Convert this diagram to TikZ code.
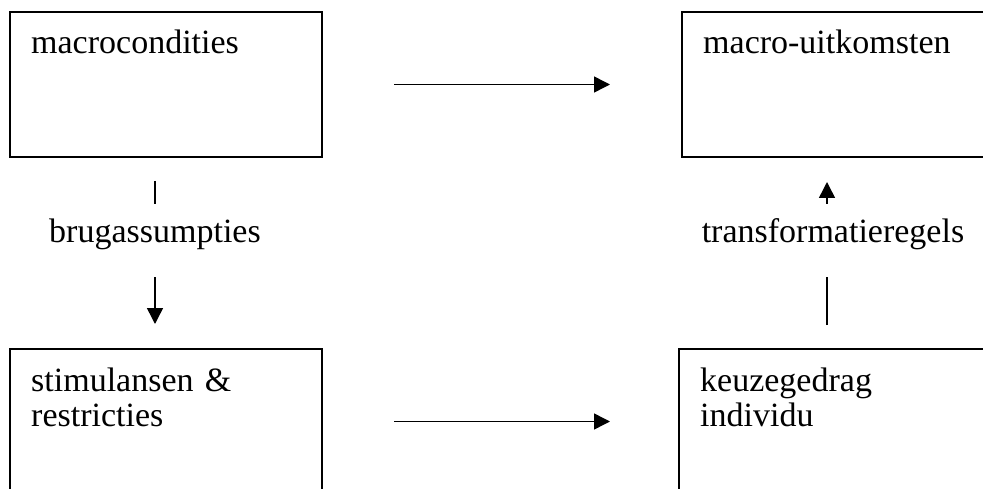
\documentclass[tikz,border=0pt]{standalone}
\usepackage{fontspec}
\setmainfont{Liberation Serif}
\usetikzlibrary{arrows.meta,calc,positioning}

\tikzset{
  blok/.style={draw,line width=1.6pt,minimum width=312pt,minimum height=145pt,inner sep=0pt,outer sep=0pt},
  bloktekst/.style={anchor=base west,inner sep=0pt,text width=280pt,align=left,font=\fontsize{34}{35.5}\selectfont},
  brug/.style={anchor=base,inner sep=0pt,text height=23pt,text depth=7pt,font=\fontsize{34}{36}\selectfont},
  pijl/.style={line width=1.5pt,-{Triangle[length=16pt,width=16pt]}},
  streep/.style={line width=1.5pt}
}

\begin{document}
\begin{tikzpicture}[x=1pt,y=1pt]
            \useasboundingbox (0,0) rectangle (983,488);
            % blokken
            \node[blok] (macro) at (166,403.5) {};
            \node[blok,minimum width=310pt] (uitkomst) at (837,403.5) {};
            \node[blok] (stimuli) at (166,66.5) {};
            \node[blok,minimum width=310pt] (keuze) at (834,66.5) {};
            \node[bloktekst] (macro-t) at ($(macro.north west)+(21,-42)$) {macrocondities};
            \node[bloktekst] (uitkomst-t) at ($(uitkomst.north west)+(21,-42)$) {macro-uitkomsten};
            \node[bloktekst] (stimuli-t) at ($(stimuli.north west)+(21,-42)$) {stimulansen \&\\restricties};
            \node[bloktekst] (keuze-t) at ($(keuze.north west)+(21,-42)$) {keuzegedrag\\individu};
            % overgangen
            \node[brug] (brug) at (155,245) {brugassumpties};
            \node[brug] (trans) at (833,245) {transformatieregels};
            \coordinate (as) at (827,245);
            \draw[pijl,shorten <=72pt,shorten >=72pt](macro.east)--(macro.east -| uitkomst.west);
            \draw[pijl,shorten <=72pt,shorten >=69pt](stimuli.east)--(stimuli.east -| keuze.west);
            \draw[streep,shorten <=24pt,shorten >=16pt](macro.south -| brug)--(brug.north);
            \draw[pijl,shorten <=27pt,shorten >=25pt](brug.south)--(stimuli.north -| brug);
            \draw[streep,shorten <=24pt,shorten >=27pt](keuze.north -| as)--(trans.south -| as);
            \draw[pijl,shorten <=16pt,shorten >=25pt](trans.north -| as)--(uitkomst.south -| as);
\end{tikzpicture}
\end{document}
